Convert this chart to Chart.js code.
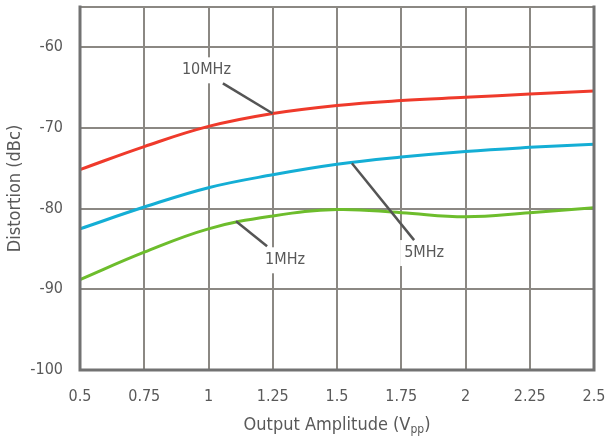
<!DOCTYPE html>
<html><head><meta charset="utf-8">
<script src="https://cdn.jsdelivr.net/npm/chart.js@4/dist/chart.umd.min.js"></script>
<style>html,body{margin:0;padding:0;background:#fff}</style>
</head><body>
<canvas id="c" width="606" height="442"></canvas>
<script>
// ---- data ----
const xValues = [0.5, 0.75, 1.0, 1.25, 1.5, 1.75, 2.0, 2.25, 2.5];
const mhz10 = [-75.15, -72.3, -69.8, -68.2, -67.2, -66.6, -66.2, -65.8, -65.4];
const mhz5  = [-82.5, -79.8, -77.4, -75.8, -74.5, -73.6, -72.9, -72.4, -72.0];
const mhz1  = [-88.8, -85.4, -82.5, -80.9, -80.1, -80.5, -81.0, -80.5, -79.9];
const seriesNames = ['10MHz', '5MHz', '1MHz'];
const xTickValues = [0.5, 0.75, 1, 1.25, 1.5, 1.75, 2, 2.25, 2.5];
const xTickLabels = ['0.5', '0.75', '1', '1.25', '1.5', '1.75', '2', '2.25', '2.5'];
const yTickValues = [-100, -90, -80, -70, -60];
const yTickLabels = ['-100', '-90', '-80', '-70', '-60'];
const xTitle = ['Output Amplitude (V', 'pp', ')'];
const yTitle = 'Distortion (dBc)';

// callouts (in data units): label centre, leader start, leader end
const callouts = [
  { text: seriesNames[0], lx: 0.992, ly: -62.85, x1: 1.056, y1: -64.46, x2: 1.25, y2: -68.2 },
  { text: seriesNames[1], lx: 1.839, ly: -85.5,  x1: 1.558, y1: -74.37, x2: 1.80, y2: -83.9 },
  { text: seriesNames[2], lx: 1.298, ly: -86.4,  x1: 1.107, y1: -81.56, x2: 1.228, y2: -84.66 }
];

const FONT = "'DejaVu Sans Condensed','DejaVu Sans',sans-serif";
const TXT = '#595959';
const GRID = '#8b8883';
const FRAME = '#727272';

const toPts = arr => arr.map((v, i) => ({ x: xValues[i], y: v }));
const noPad = s => { s.paddingLeft = 0; s.paddingRight = 0; s.paddingTop = 0; s.paddingBottom = 0; };

const decor = {
  id: 'decor',
  afterDatasetsDraw(chart) {
    const { ctx, chartArea: a, scales: { x, y } } = chart;
    ctx.save();
    // frame
    ctx.strokeStyle = GRID; ctx.lineWidth = 2;
    ctx.beginPath(); ctx.moveTo(a.left, a.top); ctx.lineTo(a.right, a.top); ctx.stroke();
    ctx.strokeStyle = FRAME; ctx.lineWidth = 3; ctx.lineCap = 'square';
    ctx.beginPath();
    ctx.moveTo(a.left, a.top); ctx.lineTo(a.left, a.bottom); ctx.lineTo(a.right, a.bottom); ctx.lineTo(a.right, a.top);
    ctx.stroke();
    // callouts
    ctx.font = '16px ' + FONT;
    ctx.textAlign = 'center'; ctx.textBaseline = 'middle';
    callouts.forEach(c => {
      const cx = x.getPixelForValue(c.lx), cy = y.getPixelForValue(c.ly);
      const w = ctx.measureText(c.text).width + 8;
      ctx.fillStyle = '#fff';
      ctx.fillRect(cx - w / 2, cy - 13, w, 26);
      ctx.strokeStyle = '#555'; ctx.lineWidth = 2.5; ctx.lineCap = 'butt';
      ctx.beginPath();
      ctx.moveTo(x.getPixelForValue(c.x1), y.getPixelForValue(c.y1));
      ctx.lineTo(x.getPixelForValue(c.x2), y.getPixelForValue(c.y2));
      ctx.stroke();
      ctx.fillStyle = TXT;
      ctx.fillText(c.text, cx, cy);
    });
    ctx.restore();
  },
  afterDraw(chart) {
    const { ctx, chartArea: a } = chart;
    ctx.save();
    ctx.fillStyle = TXT;
    ctx.textBaseline = 'middle';
    // x title with subscript
    const big = '18px ' + FONT, small = '12px ' + FONT;
    ctx.font = big; const w1 = ctx.measureText(xTitle[0]).width, w3 = ctx.measureText(xTitle[2]).width;
    ctx.font = small; const w2 = ctx.measureText(xTitle[1]).width;
    let sx = (a.left + a.right) / 2 - (w1 + w2 + w3) / 2;
    const ty = 425;
    ctx.textAlign = 'left';
    ctx.font = big; ctx.fillText(xTitle[0], sx, ty); sx += w1;
    ctx.font = small; ctx.fillText(xTitle[1], sx, ty + 5); sx += w2;
    ctx.font = big; ctx.fillText(xTitle[2], sx, ty);
    // y title
    ctx.translate(15, (a.top + a.bottom) / 2);
    ctx.rotate(-Math.PI / 2);
    ctx.textAlign = 'center';
    ctx.font = big;
    ctx.fillText(yTitle, 0, 0);
    ctx.restore();
  }
};

new Chart(document.getElementById('c'), {
  type: 'line',
  data: {
    datasets: [
      { label: seriesNames[2], data: toPts(mhz1), borderColor: '#6dbd2c' },
      { label: seriesNames[1], data: toPts(mhz5), borderColor: '#14aed5' },
      { label: seriesNames[0], data: toPts(mhz10), borderColor: '#ef3a2b' }
    ]
  },
  options: {
    responsive: false,
    animation: false,
    devicePixelRatio: 1,
    layout: { padding: { top: 7, right: 12, left: 0, bottom: 0 } },
    elements: {
      line: { borderWidth: 3, tension: 0.4, fill: false },
      point: { radius: 0, hoverRadius: 0 }
    },
    plugins: { legend: { display: false }, tooltip: { enabled: false } },
    scales: {
      x: {
        type: 'linear', min: 0.5, max: 2.5,
        afterBuildTicks: s => { s.ticks = xTickValues.map(v => ({ value: v })); },
        afterFit: s => { s.height = 72; noPad(s); },
        ticks: {
          callback: (v) => { const i = xTickValues.indexOf(v); return i >= 0 ? xTickLabels[i] : ''; },
          font: { family: FONT, size: 16 }, color: TXT, padding: 17, maxRotation: 0, autoSkip: false
        },
        grid: { color: GRID, lineWidth: 2, drawTicks: false },
        border: { display: false }
      },
      y: {
        type: 'linear', min: -100, max: -55,
        afterBuildTicks: s => { s.ticks = yTickValues.map(v => ({ value: v })); },
        afterFit: s => { s.width = 80; noPad(s); },
        ticks: {
          callback: (v) => { const i = yTickValues.indexOf(v); return i >= 0 ? yTickLabels[i] : ''; },
          font: { family: FONT, size: 16 }, color: TXT, padding: 17, autoSkip: false
        },
        grid: { color: GRID, lineWidth: 2, drawTicks: false },
        border: { display: false }
      }
    }
  },
  plugins: [decor]
});
</script>
</body></html>
